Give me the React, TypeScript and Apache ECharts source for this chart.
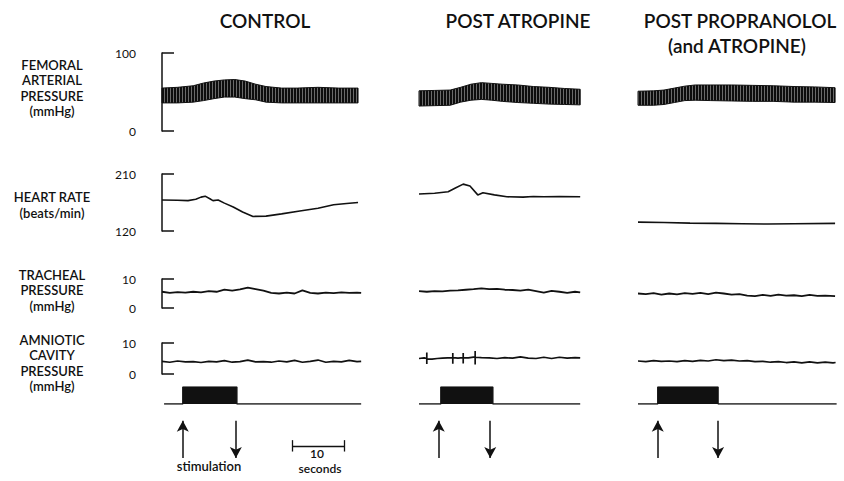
import React, { useEffect, useRef } from "react";
import * as echarts from "echarts";

// ---------- text ----------
const columnTitles = ["CONTROL", "POST ATROPINE", "POST PROPRANOLOL", "(and ATROPINE)"];
const rowLabels = [
  ["FEMORAL", "ARTERIAL", "PRESSURE", "(mmHg)"],
  ["HEART RATE", "(beats/min)"],
  ["TRACHEAL", "PRESSURE", "(mmHg)"],
  ["AMNIOTIC", "CAVITY", "PRESSURE", "(mmHg)"],
];
const stimLabel = "stimulation";
const scaleLabel = "10";
const scaleUnit = "seconds";

// ---------- axis ranges (row order: femoral, heart rate, tracheal, amniotic, stim, arrows) ----------
const yMin = [0, 120, 0, 0, 0, 0];
const yMax = [100, 210, 10, 10, 1, 1];
const colSeconds = [38.5, 31.5, 38.5];

// ---------- femoral arterial pressure envelope (mmHg) ----------
const femT1 = [0, 3, 6, 8, 10, 12, 14, 16, 18, 20, 23, 26, 30, 34, 37.7];
const femTop1 = [55, 56, 58, 61.5, 64, 65.5, 66, 64, 60, 57, 55, 55, 56, 55, 55];
const femBot1 = [36, 36, 37, 39, 41.5, 43.5, 43.5, 41.5, 40, 37, 36, 36, 36, 36, 36];
const femT2 = [0, 3, 6, 8, 10, 12, 14, 16, 19, 22, 25, 28, 31];
const femTop2 = [51.5, 52, 52.5, 56, 60, 62, 61, 60, 59, 57, 56, 54.5, 53.5];
const femBot2 = [32, 32.5, 33, 37, 39.5, 40.5, 39.5, 38, 36.5, 35.5, 34.5, 34, 33.5];
const femT3 = [0, 3, 5, 7, 9, 11, 14, 18, 22, 26, 30, 34, 37.9];
const femTop3 = [51, 51.5, 52.5, 55, 57.5, 59, 59, 59, 58.5, 58, 57, 56.5, 55.5];
const femBot3 = [33, 33, 34, 36.5, 39, 39.5, 39, 38.5, 38, 38, 37, 37, 36.5];

// ---------- heart rate (beats/min) ----------
const hrT1 = [0, 3, 5, 6.5, 7.5, 8.3, 9.2, 9.8, 10.8, 12, 13.7, 15.5, 17.5, 20, 23, 26.5, 30, 33, 35.5, 37.7];
const hrV1 = [169, 168.5, 168, 170, 173.5, 175, 171, 168, 169, 164, 158, 150, 143, 143.5, 147, 151.5, 156, 161.5, 163.5, 165];
const hrT2 = [0, 3, 5.6, 7, 8.5, 9.8, 11.3, 12.3, 14.5, 16.9, 20, 22, 24, 27, 31];
const hrV2 = [178.5, 179.5, 182, 188, 194, 191, 177, 180.5, 177, 174, 173.5, 174.5, 174, 174.5, 174];
const hrT3 = [0, 5, 10, 15, 20, 25, 30, 37.9];
const hrV3 = [134, 133.5, 132.5, 132, 131.5, 131, 131.5, 132];

// ---------- tracheal pressure (mmHg) ----------
const trT1 = [0, 1.5, 3, 4.5, 6, 7.5, 9, 10.5, 12, 13.5, 15, 16.5, 18, 19.5, 21, 22.5, 24, 25.5, 27, 28.5, 30, 31.5, 33, 34.5, 36, 37.5, 38.3];
const trV1 = [5.6, 5.2, 5.5, 5.3, 5.6, 5.4, 5.8, 5.6, 6.3, 6.0, 6.4, 7.0, 6.5, 6.0, 5.2, 5.0, 5.3, 5.0, 6.1, 5.2, 5.0, 5.3, 5.1, 5.4, 5.2, 5.3, 5.2];
const trT2 = [0, 1.5, 3, 4.5, 6, 7.5, 9, 10.5, 12, 13.5, 15, 16.5, 18, 19.5, 21, 22.5, 24, 25.5, 27, 28.5, 30, 31];
const trV2 = [5.8, 5.6, 5.8, 5.7, 6.0, 6.1, 6.3, 6.5, 6.8, 6.5, 6.6, 6.3, 6.2, 6.0, 6.3, 5.8, 5.3, 5.9, 5.6, 5.2, 5.6, 5.4];
const trT3 = [0, 1.5, 3, 4.5, 6, 7.5, 9, 10.5, 12, 13.5, 15, 16.5, 18, 19.5, 21, 22.5, 24, 25.5, 27, 28.5, 30, 31.5, 33, 34.5, 36, 37.9];
const trV3 = [5.0, 4.8, 5.1, 4.6, 5.0, 4.7, 5.1, 4.9, 5.2, 4.8, 5.3, 5.0, 4.6, 4.8, 4.3, 4.1, 4.5, 4.2, 4.6, 4.3, 4.4, 4.1, 4.5, 4.2, 4.3, 4.1];

// ---------- amniotic cavity pressure (mmHg) ----------
const amT1 = [0, 1.5, 3, 4.5, 6, 7.5, 9, 10.5, 12, 13.5, 15, 16.5, 18, 19.5, 21, 22.5, 24, 25.5, 27, 28.5, 30, 31.5, 33, 34.5, 36, 37.5, 38.3];
const amV1 = [4.1, 3.8, 4.2, 3.9, 4.0, 3.7, 4.1, 3.9, 4.3, 3.8, 4.0, 4.5, 3.9, 4.0, 3.8, 4.2, 3.9, 4.4, 3.8, 4.1, 4.5, 3.8, 4.1, 3.9, 4.4, 4.0, 4.1];
const amT2 = [0, 1.0, 1.5, 1.5, 1.5, 1.5, 2.5, 3.5, 4.5, 5.5, 6.5, 6.5, 6.5, 6.5, 7.5, 8.5, 8.5, 8.5, 8.5, 9.5, 10.8, 10.8, 10.8, 10.8, 12, 13.5, 15, 16.5, 18, 19.5, 21, 22.5, 24, 25.5, 27, 28.5, 30, 31];
const amV2 = [5.0, 5.2, 5.0, 6.9, 3.2, 4.9, 4.8, 5.0, 5.1, 5.2, 5.2, 6.8, 3.3, 5.3, 5.1, 5.3, 6.8, 3.4, 5.3, 5.2, 5.5, 7.4, 3.1, 5.4, 5.3, 5.2, 5.0, 5.3, 5.1, 5.5, 5.1, 5.0, 5.4, 5.0, 5.4, 5.1, 5.3, 5.2];
const amT3 = [0, 1.5, 3, 4.5, 6, 7.5, 9, 10.5, 12, 13.5, 15, 16.5, 18, 19.5, 21, 22.5, 24, 25.5, 27, 28.5, 30, 31.5, 33, 34.5, 36, 37.5, 38];
const amV3 = [4.2, 4.0, 4.3, 4.1, 4.2, 4.0, 4.3, 4.1, 4.4, 4.2, 4.6, 4.3, 4.5, 4.2, 4.3, 4.0, 4.1, 3.8, 4.0, 3.7, 3.9, 3.6, 3.9, 3.6, 3.8, 3.6, 3.7];

// ---------- stimulation (seconds) ----------
const traceStart = [0.4, 0, 0];
const traceEnd = [38.3, 31, 38.2];
const stimOn = [4.0, 4.2, 3.8];
const stimOff = [14.4, 14.2, 15.4];
const arrowUpT = [4.0, 3.8, 3.8];
const arrowDownT = [14.2, 13.7, 15.4];
const scaleBarStart = 25;
const scaleBarLength = 10;

// ---------- layout ----------
const PX_PER_SEC = 5.2;
const colLeft = [162, 419, 638];
const bracketX = 143; // x of the scale brackets at the left of the first column
const rowTop = [53, 174, 279, 343, 387, 420];
const rowHeight = [78, 57, 29, 31, 17, 38];
const INK = "#111";
const FONT = "Lato, 'DejaVu Sans', sans-serif";

const zip = (ts: number[], vs: number[]) => ts.map((t, i) => [t, vs[i]]);

export default function App() {
  const ref = useRef<HTMLDivElement>(null);
  useEffect(() => {
    if (!ref.current) return;
    const chart = echarts.init(ref.current, undefined, { renderer: "svg" });

    const cv = document.createElement("canvas");
    cv.width = 3;
    cv.height = 4;
    const ctx = cv.getContext("2d");
    if (ctx) {
      ctx.fillStyle = "#0d0d0d";
      ctx.fillRect(0, 0, 3, 4);
      ctx.fillStyle = "#6a6a6a";
      ctx.fillRect(2, 0, 1, 4);
    }

    const grids: any[] = [];
    const xAxes: any[] = [];
    const yAxes: any[] = [];
    for (let r = 0; r < rowTop.length; r++) {
      for (let c = 0; c < 3; c++) {
        const idx = r * 3 + c;
        const bracket = c === 0 && r < 4;
        const left = bracket ? bracketX : colLeft[c];
        const tMin = bracket ? -(colLeft[c] - bracketX) / PX_PER_SEC : 0;
        grids.push({
          left,
          top: rowTop[r],
          width: (colSeconds[c] - tMin) * PX_PER_SEC,
          height: rowHeight[r],
          outerBoundsMode: "none",
        });
        xAxes.push({ type: "value", gridIndex: idx, min: tMin, max: colSeconds[c], show: false });
        yAxes.push({
          type: "value",
          gridIndex: idx,
          min: yMin[r],
          max: yMax[r],
          show: bracket,
          position: "left",
          axisLine: { show: true, lineStyle: { color: INK, width: 1.5 } },
          axisTick: {
            show: true,
            inside: true,
            length: 12,
            customValues: [yMin[r], yMax[r]],
            lineStyle: { color: INK, width: 1.5 },
          },
          axisLabel: {
            show: true,
            customValues: [yMin[r], yMax[r]],
            fontSize: 12,
            color: INK,
            margin: 7,
            fontFamily: FONT,
          },
          splitLine: { show: false },
        });
      }
    }

    const series: any[] = [];
    const gi = (r: number, c: number) => r * 3 + c;
    const line = (r: number, c: number, data: any[], width: number) => ({
      type: "line",
      xAxisIndex: gi(r, c),
      yAxisIndex: gi(r, c),
      data,
      symbol: "none",
      silent: true,
      lineStyle: { color: INK, width },
    });

    const fem = [
      [femT1, femTop1, femBot1],
      [femT2, femTop2, femBot2],
      [femT3, femTop3, femBot3],
    ];
    fem.forEach(([t, top, bot], c) => {
      const data = t.map((v, i) => [v, top[i], bot[i]]);
      series.push({
        type: "custom",
        xAxisIndex: gi(0, c),
        yAxisIndex: gi(0, c),
        silent: true,
        data,
        encode: { x: 0, y: [1, 2] },
        renderItem: (params: any, api: any) => {
          if (params.dataIndex !== 0) return null;
          const upper = data.map((d) => api.coord([d[0], d[1]]));
          const lower = data.map((d) => api.coord([d[0], d[2]])).reverse();
          return {
            type: "polygon",
            shape: { points: upper.concat(lower) },
            style: { fill: { image: cv, repeat: "repeat" }, stroke: INK, lineWidth: 1 },
          };
        },
      });
    });

    [zip(hrT1, hrV1), zip(hrT2, hrV2), zip(hrT3, hrV3)].forEach((d, c) => series.push(line(1, c, d, 1.6)));
    [zip(trT1, trV1), zip(trT2, trV2), zip(trT3, trV3)].forEach((d, c) => series.push(line(2, c, d, 1.8)));
    [zip(amT1, amV1), zip(amT2, amV2), zip(amT3, amV3)].forEach((d, c) => series.push(line(3, c, d, 1.7)));

    for (let c = 0; c < 3; c++) {
      series.push({
        ...line(4, c, [
          [traceStart[c], 0],
          [stimOn[c], 0],
          [stimOn[c], 1],
          [stimOff[c], 1],
          [stimOff[c], 0],
          [traceEnd[c], 0],
        ], 1.4),
        areaStyle: { color: INK, opacity: 1 },
      });
      series.push({
        type: "line",
        xAxisIndex: gi(5, c),
        yAxisIndex: gi(5, c),
        data: [],
        markLine: {
          silent: true,
          symbol: ["none", "arrow"],
          symbolSize: [9, 11],
          label: { show: false },
          lineStyle: { color: INK, width: 1.5, type: "solid" },
          data: [
            [{ coord: [arrowUpT[c], 0] }, { coord: [arrowUpT[c], 0.98] }],
            [{ coord: [arrowDownT[c], 0.98] }, { coord: [arrowDownT[c], 0] }],
          ],
        },
      });
    }
    // 10-second scale bar
    const sb0 = scaleBarStart;
    const sb1 = scaleBarStart + scaleBarLength;
    series.push({
      type: "line",
      xAxisIndex: gi(5, 0),
      yAxisIndex: gi(5, 0),
      data: [],
      markLine: {
        silent: true,
        symbol: ["none", "none"],
        label: { show: false },
        lineStyle: { color: INK, width: 1.3, type: "solid" },
        data: [
          [{ coord: [sb0, 0.32] }, { coord: [sb1, 0.32] }],
          [{ coord: [sb0, 0.47] }, { coord: [sb0, 0.17] }],
          [{ coord: [sb1, 0.47] }, { coord: [sb1, 0.17] }],
        ],
      },
    });

    const graphics: any[] = [];
    const txt = (s: string, x: number, y: number, size: number, lh = size, weight = "normal") => ({
      type: "text",
      x,
      y,
      silent: true,
      style: {
        text: s,
        fill: INK,
        font: `${weight} ${size}px ${FONT}`,
        lineHeight: lh,
        textAlign: "center",
        textVerticalAlign: "middle",
      },
    });
    graphics.push(txt(columnTitles[0], 265, 20, 19, 19, "600"));
    graphics.push(txt(columnTitles[1], 518, 20, 19, 19, "600"));
    graphics.push(txt(columnTitles[2], 740, 20, 19, 19, "600"));
    graphics.push(txt(columnTitles[3], 737, 45, 19, 19, "600"));
    const labelCenterY = [88, 205, 290, 363];
    rowLabels.forEach((lines, r) =>
      graphics.push(txt(lines.join("\n"), 52, labelCenterY[r], 13, 15.5, "600"))
    );
    graphics.push(txt(stimLabel, 209, 466, 13, 13, "600"));
    graphics.push(txt(scaleLabel, 317, 453, 12, 12, "600"));
    graphics.push(txt(scaleUnit, 320, 468, 12, 12, "600"));

    chart.setOption({
      animation: false,
      backgroundColor: "#fff",
      grid: grids,
      xAxis: xAxes,
      yAxis: yAxes,
      series,
      graphic: graphics,
    });
    return () => chart.dispose();
  }, []);
  return (
    <div
      ref={ref}
      style={{ position: "fixed", left: 0, top: 0, width: 844, height: 481 }}
    />
  );
}
